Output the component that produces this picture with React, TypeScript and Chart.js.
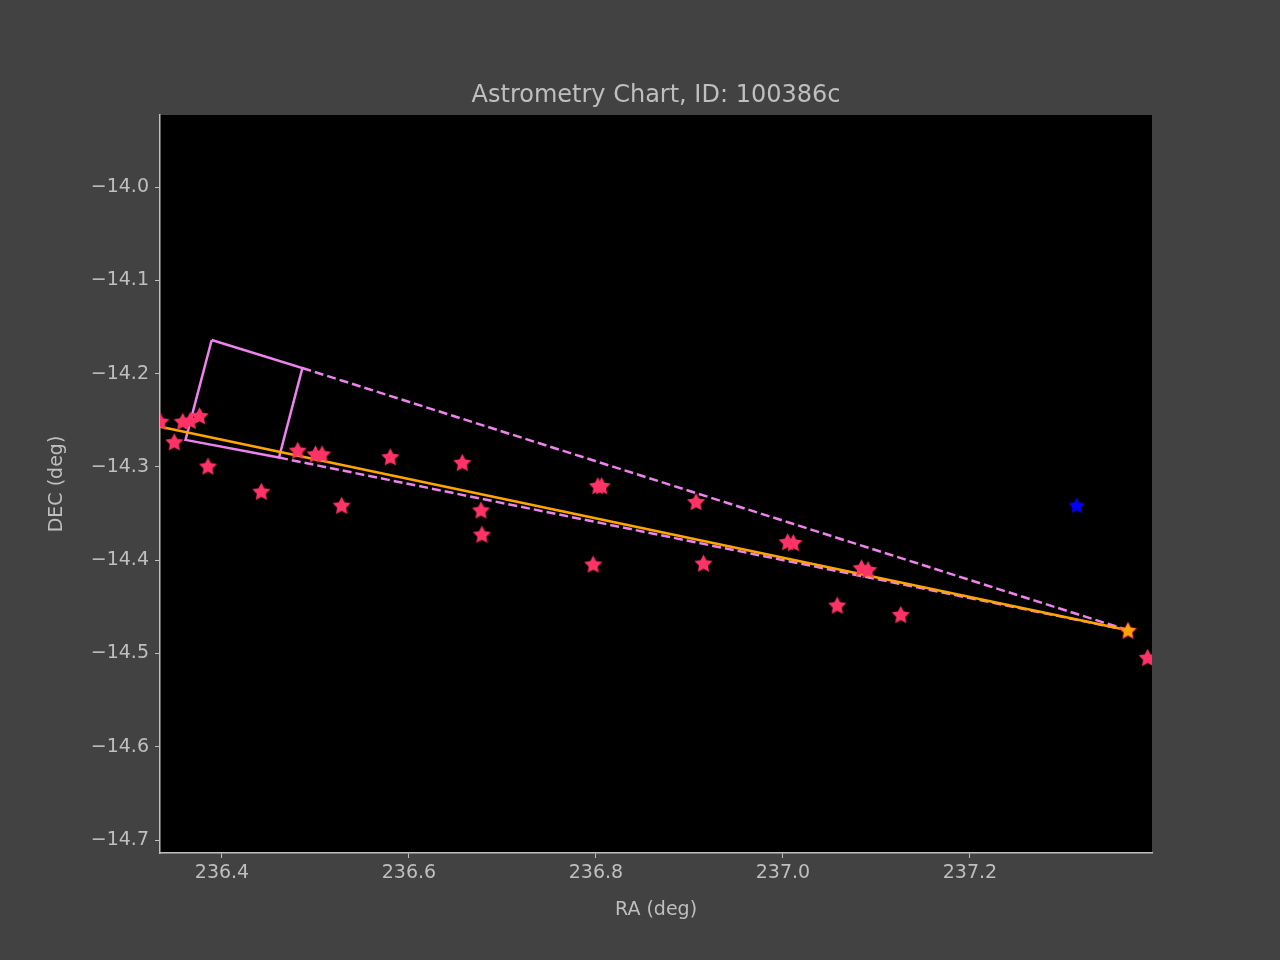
import React, { useEffect, useRef } from "react";
import { Chart, registerables } from "chart.js";
Chart.register(...registerables);

const starRA = [236.334,236.349,236.358,236.366,236.376,236.385,236.442,236.481,236.500,236.507,236.528,236.580,236.657,236.677,236.678,236.797,236.802,236.806,236.907,236.915,237.005,237.011,237.058,237.084,237.091,237.126,237.369,237.390];
const starDEC = [-14.251,-14.273,-14.251,-14.250,-14.245,-14.299,-14.326,-14.282,-14.286,-14.286,-14.341,-14.289,-14.295,-14.346,-14.372,-14.404,-14.320,-14.320,-14.337,-14.403,-14.380,-14.381,-14.448,-14.408,-14.410,-14.458,-14.475,-14.504];
const targetRA = [237.314];
const targetDEC = [-14.341];
const orbitRA = [236.334, 237.369];
const orbitDEC = [-14.257, -14.475];
const boxRA = [236.389, 236.486, 236.461, 236.361, 236.389];
const boxDEC = [-14.164, -14.194, -14.290, -14.271, -14.164];
const dash1RA = [236.486, 237.369];
const dash1DEC = [-14.194, -14.475];
const dash2RA = [236.461, 237.369];
const dash2DEC = [-14.290, -14.475];
const xTicks = [236.4, 236.6, 236.8, 237.0, 237.2];
const yTicks = [-14.0, -14.1, -14.2, -14.3, -14.4, -14.5, -14.6, -14.7];

const zip = (a: number[], b: number[]) => a.map((x, i) => ({ x, y: b[i] }));

function starImg(color: string, size: number) {
  const c = document.createElement("canvas");
  c.width = size; c.height = size;
  const g = c.getContext("2d")!;
  const R = size / 2, r = R * 0.5;
  g.beginPath();
  for (let i = 0; i < 10; i++) {
    const rad = i % 2 === 0 ? R : r;
    const a = -Math.PI / 2 + (i * Math.PI) / 5;
    const px = R + rad * Math.cos(a), py = R + rad * Math.sin(a) + size * 0.05;
    if (i === 0) g.moveTo(px, py); else g.lineTo(px, py);
  }
  g.closePath();
  g.fillStyle = color; g.fill();
  return c;
}

const TXT = "#bfbfbf";
const FONT = "DejaVu Sans";

export default function App() {
  const ref = useRef<HTMLCanvasElement>(null);
  useEffect(() => {
    document.body.style.margin = "0";
    document.body.style.background = "#424242";
    const bgPlugin = {
      id: "bg",
      beforeDraw(chart: any) {
        const { ctx, chartArea: a } = chart;
        ctx.save();
        ctx.fillStyle = "#424242";
        ctx.fillRect(0, 0, chart.width, chart.height);
        ctx.fillStyle = "#000";
        ctx.fillRect(a.left, a.top, a.right - a.left, a.bottom - a.top);
        ctx.restore();
      },
      afterDraw(chart: any) {
        const { ctx, chartArea: a } = chart;
        ctx.save();
        ctx.fillStyle = TXT;
        ctx.textAlign = "center";
        ctx.textBaseline = "alphabetic";
        ctx.font = `24px '${FONT}'`;
        ctx.fillText("Astrometry Chart, ID: 100386c", (a.left + a.right) / 2, 102);
        ctx.font = `19px '${FONT}'`;
        ctx.fillText("RA (deg)", (a.left + a.right) / 2, 915);
        ctx.translate(62, (a.top + a.bottom) / 2);
        ctx.rotate(-Math.PI / 2);
        ctx.fillText("DEC (deg)", 0, 0);
        ctx.restore();
      },
    };
    const fmt = (v: number) => (v < 0 ? "\u2212" : "") + Math.abs(v).toFixed(1);
    const chart = new Chart(ref.current!, {
      type: "scatter",
      data: {
        datasets: [
          { data: zip(orbitRA, orbitDEC), showLine: true, borderColor: "orange", borderWidth: 2.5, pointRadius: 0, order: 3 },
          { data: zip(boxRA, boxDEC), showLine: true, borderColor: "violet", borderWidth: 2.5, pointRadius: 0, order: 3 },
          { data: zip(dash1RA, dash1DEC), showLine: true, borderColor: "violet", borderWidth: 2.5, borderDash: [9, 4], pointRadius: 0, order: 3 },
          { data: zip(dash2RA, dash2DEC), showLine: true, borderColor: "violet", borderWidth: 2.5, borderDash: [9, 4], pointRadius: 0, order: 3 },
          { data: zip(starRA, starDEC), pointStyle: starImg("#ff3366", 19) as any, order: 2 },
          { data: zip(targetRA, targetDEC), pointStyle: starImg("#0000ff", 17) as any, order: 1 },
          { data: zip([orbitRA[1]], [orbitDEC[1]]), pointStyle: starImg("orange", 16) as any, order: 0 },
        ],
      },
      options: {
        animation: false,
        responsive: false,
        layout: { padding: { top: 115, right: 128, left: 0, bottom: 0 } },
        plugins: { legend: { display: false }, tooltip: { enabled: false } },
        scales: {
          x: {
            type: "linear", min: 236.3337, max: 237.3947,
            afterBuildTicks: (s: any) => { s.ticks = xTicks.map((v) => ({ value: v })); },
            afterFit: (s: any) => { s.height = 107; },
            ticks: { color: TXT, font: { family: FONT, size: 19 }, callback: (v: any) => Number(v).toFixed(1), maxRotation: 0, padding: 4 },
            grid: { drawOnChartArea: false, color: TXT, tickLength: 5 },
            border: { color: TXT, width: 1.5 },
          },
          y: {
            type: "linear", min: -14.7138, max: -13.9228,
            afterBuildTicks: (s: any) => { s.ticks = yTicks.map((v) => ({ value: v })); },
            afterFit: (s: any) => { s.width = 160; },
            ticks: { color: TXT, font: { family: FONT, size: 19 }, callback: (v: any) => fmt(Number(v)), padding: 6 },
            grid: { drawOnChartArea: false, color: TXT, tickLength: 5 },
            border: { color: TXT, width: 1.5 },
          },
        },
      } as any,
      plugins: [bgPlugin],
    });
    return () => chart.destroy();
  }, []);
  return <canvas ref={ref} width={1280} height={960} style={{ display: "block" }} />;
}
